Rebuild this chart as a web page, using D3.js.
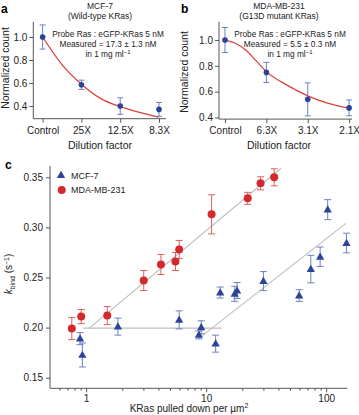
<!DOCTYPE html>
<html><head><meta charset="utf-8">
<script src="https://cdn.jsdelivr.net/npm/d3@7"></script>
<style>
body{margin:0;background:#fff;}
svg{display:block;font-family:"Liberation Sans",Arial,sans-serif;}
</style></head>
<body><svg id="c" width="359" height="415"></svg>
<script>
// ---- Panel a data ----
const catsA = ["Control","25X","12.5X","8.3X"];
const valsA = [1.0, 0.585, 0.40, 0.371];
const errA  = [0.105, 0.04, 0.072, 0.06];
const fitAx = [0, 0.5, 1, 1.5, 2, 2.5, 3];
const fitAy = [1.0, 0.76, 0.59, 0.465, 0.395, 0.345, 0.303];
const ticksA = [0.4, 0.6, 0.8, 1.0];
// ---- Panel b data ----
const catsB = ["Control","6.3X","3.1X","2.1X"];
const valsB = [1.0, 0.749, 0.54, 0.474];
const errB  = [0.097, 0.078, 0.128, 0.061];
const fitBx = [0, 0.25, 0.5, 0.75, 1, 1.5, 2, 2.5, 3];
const fitBy = [1.0, 0.975, 0.922, 0.84, 0.755, 0.65, 0.567, 0.508, 0.47];
const ticksB = [0.4, 0.6, 0.8, 1.0];
// ---- Panel c data ----
const mcfX   = [0.89, 0.93, 1.84, 5.96, 9.1, 8.7, 12.0, 13.1, 17.3, 18.1, 30.0, 59.6, 74.5, 89.1, 103, 147.7];
const mcfY   = [0.189, 0.1727, 0.201, 0.2077, 0.2003, 0.1927, 0.184, 0.235, 0.2337, 0.237, 0.2464, 0.232, 0.2584, 0.2707, 0.3177, 0.2844];
const mcfErr = [0.006, 0.012, 0.0085, 0.009, 0.0065, 0.004, 0.0085, 0.0055, 0.0075, 0.008, 0.0095, 0.0058, 0.0137, 0.0097, 0.010, 0.0098];
const mdaX   = [0.76, 0.91, 1.5, 3.02, 4.2, 5.55, 5.96, 11.1, 22.2, 28.4, 36.9];
const mdaY   = [0.199, 0.211, 0.212, 0.247, 0.263, 0.266, 0.278, 0.313, 0.329, 0.344, 0.350];
const mdaErr = [0.011, 0.007, 0.009, 0.010, 0.010, 0.009, 0.009, 0.0195, 0.006, 0.0065, 0.0085];
const lineMda  = [[1.05, 0.199], [42, 0.359]];
const lineFlat = [[0.95, 0.1995], [13.5, 0.1995]];
const lineMcf  = [[9.3, 0.192], [146, 0.304]];
const ticksCy = [0.15, 0.20, 0.25, 0.30, 0.35];
const ticksCx = [1, 10, 100];
const minorCx = [0.6,0.7,0.8,0.9,2,3,4,5,6,7,8,9,20,30,40,50,60,70,80,90];

const BLUE = "#2b4497", BLUE_E = "#6d80c6", RED = "#d32b2b", RED_E = "#df5f5c", CURVE = "#d8443c", GRAY = "#bdbdbd", AX = "#444";
const svg = d3.select("#c");

function styleAxis(g){
  g.selectAll("path.domain").remove();
  g.selectAll("line").attr("stroke", AX).attr("stroke-width", 0.9);
  g.selectAll("text").attr("fill", "#222").attr("font-size", "10px");
}

function catPanel(o){
  const x = d3.scaleLinear().domain(o.xd).range(o.xr);
  const y = d3.scaleLinear().domain(o.yd).range(o.yr);
  const g = svg.append("g");
  g.append("line").attr("x1", o.xr[0]).attr("x2", o.xr[0]).attr("y1", o.yr[1]).attr("y2", o.yr[0]).attr("stroke", AX).attr("stroke-width", 0.9);
  g.append("line").attr("x1", o.xr[0]).attr("x2", o.xr[1]).attr("y1", o.yr[0]).attr("y2", o.yr[0]).attr("stroke", AX).attr("stroke-width", 0.9);
  const ya = g.append("g").attr("transform", `translate(${o.xr[0]},0)`)
    .call(d3.axisLeft(y).tickValues(o.yticks).tickFormat(d3.format(".1f")).tickSize(4).tickPadding(2));
  styleAxis(ya);
  const xa = g.append("g").attr("transform", `translate(0,${o.yr[0]})`)
    .call(d3.axisBottom(x).tickValues(d3.range(o.cats.length)).tickFormat(i => o.cats[i]).tickSize(4).tickPadding(4));
  styleAxis(xa);
  g.append("path").datum(o.fx.map((v,i)=>[v,o.fy[i]]))
    .attr("d", d3.line().x(d=>x(d[0])).y(d=>y(d[1])).curve(d3.curveMonotoneX))
    .attr("fill","none").attr("stroke", CURVE).attr("stroke-width", 1.3);
  o.vals.forEach((v,i)=>{
    const cx = x(i), t = y(v+o.err[i]), b = y(v-o.err[i]);
    g.append("line").attr("x1",cx).attr("x2",cx).attr("y1",t).attr("y2",b).attr("stroke",BLUE_E).attr("stroke-width",1);
    [t,b].forEach(yy=>g.append("line").attr("x1",cx-3).attr("x2",cx+3).attr("y1",yy).attr("y2",yy).attr("stroke",BLUE_E).attr("stroke-width",1));
    g.append("circle").attr("cx",cx).attr("cy",y(v)).attr("r",2.8).attr("fill",BLUE);
  });
  g.append("text").attr("x", o.lab[0]).attr("y", o.lab[1]).attr("font-weight","bold").attr("font-size","12px").text(o.letter);
  g.append("text").attr("x", o.tx).attr("y", 9).attr("text-anchor","middle").attr("font-size","8.5px").attr("fill","#222").text(o.t1);
  g.append("text").attr("x", o.tx).attr("y", 19).attr("text-anchor","middle").attr("font-size","8.5px").attr("fill","#222").text(o.t2);
  const ax = o.ax;
  [["Probe Ras : eGFP-KRas 5 nM", 37], [o.meas, 47]].forEach(([s,yy])=>
    g.append("text").attr("x", ax).attr("y", yy).attr("text-anchor","middle").attr("font-size","8.3px").attr("fill","#222").text(s));
  const t3 = g.append("text").attr("x", ax).attr("y", 56.5).attr("text-anchor","middle").attr("font-size","8.3px").attr("fill","#222");
  t3.append("tspan").text("in 1 mg ml");
  t3.append("tspan").attr("dy", -3).attr("font-size","6px").text("−1");
  g.append("text").attr("x", o.tx).attr("y", 149).attr("text-anchor","middle").attr("font-size","10.5px").attr("fill","#222").text("Dilution factor");
  g.append("text").attr("transform", `translate(${o.ylx},${o.yly}) rotate(-90)`).attr("text-anchor","middle").attr("font-size","10.5px").attr("fill","#222").text("Normalized count");
}

catPanel({cats:catsA, vals:valsA, err:errA, fx:fitAx, fy:fitAy, yticks:ticksA,
  xd:[-0.24,3.18], xr:[33.3,166], yd:[0.29,1.133], yr:[118.7,21.7],
  letter:"a", lab:[1,13], tx:100, t1:"MCF-7", t2:"(Wild-type KRas)", ax:108, meas:"Measured = 17.3 ± 1.3 nM", ylx:8.5, yly:68});
catPanel({cats:catsB, vals:valsB, err:errB, fx:fitBx, fy:fitBy, yticks:ticksB,
  xd:[-0.145,3.07], xr:[219,352], yd:[0.387,1.142], yr:[119.1,21.7],
  letter:"b", lab:[181,13], tx:279, t1:"MDA-MB-231", t2:"(G13D mutant KRas)", ax:290, meas:"Measured = 5.5 ± 0.3 nM", ylx:187.5, yly:72});

// ---- Panel c ----
const xc = d3.scaleLog().domain([0.5,150]).range([50,347.3]);
const yc = d3.scaleLinear().domain([0.15,0.35]).range([377.7,177.3]);
const gc = svg.append("g");
gc.append("line").attr("x1",50).attr("x2",50).attr("y1",166).attr("y2",388.3).attr("stroke",AX).attr("stroke-width",0.9);
gc.append("line").attr("x1",50).attr("x2",347.3).attr("y1",388.3).attr("y2",388.3).attr("stroke",AX).attr("stroke-width",0.9);
const yca = gc.append("g").attr("transform","translate(50,0)")
  .call(d3.axisLeft(yc).tickValues(ticksCy).tickFormat(d3.format(".2f")).tickSize(4).tickPadding(3));
styleAxis(yca);
const xca = gc.append("g").attr("transform","translate(0,388.3)")
  .call(d3.axisBottom(xc).tickValues(ticksCx).tickFormat(d3.format("d")).tickSize(4).tickPadding(3));
styleAxis(xca);
const xcm = gc.append("g").attr("transform","translate(0,388.3)")
  .call(d3.axisBottom(xc).tickValues(minorCx).tickFormat("").tickSize(2.5));
styleAxis(xcm);
gc.append("text").attr("x",5).attr("y",169).attr("font-weight","bold").attr("font-size","12px").text("c");

const ln = d3.line().x(d=>xc(d[0])).y(d=>yc(d[1]));
[lineMda, lineFlat, lineMcf].forEach(L=>gc.append("path").attr("d", ln(L)).attr("fill","none").attr("stroke",GRAY).attr("stroke-width",1.1));

function ebar(px, v, e, col){
  const t = yc(v+e), b = yc(v-e);
  gc.append("line").attr("x1",px).attr("x2",px).attr("y1",t).attr("y2",b).attr("stroke",col).attr("stroke-width",1);
  [t,b].forEach(yy=>gc.append("line").attr("x1",px-3.5).attr("x2",px+3.5).attr("y1",yy).attr("y2",yy).attr("stroke",col).attr("stroke-width",1));
}
const tri = d3.symbol().type(d3.symbolTriangle).size(30);
mcfX.forEach((v,i)=>{ ebar(xc(v), mcfY[i], mcfErr[i], BLUE_E); });
mcfX.forEach((v,i)=>{
  gc.append("path").attr("d", tri()).attr("transform",`translate(${xc(v)},${yc(mcfY[i])+0.5})`).attr("fill",BLUE);
});
mdaX.forEach((v,i)=>{ ebar(xc(v), mdaY[i], mdaErr[i], RED_E); });
mdaX.forEach((v,i)=>{
  gc.append("circle").attr("cx",xc(v)).attr("cy",yc(mdaY[i])).attr("r",4).attr("fill",RED);
});
// legend
gc.append("path").attr("d", tri()).attr("transform","translate(61,175.5)").attr("fill",BLUE);
gc.append("text").attr("x",71).attr("y",178.5).attr("font-size","9px").attr("fill","#222").text("MCF-7");
gc.append("circle").attr("cx",61.7).attr("cy",190).attr("r",4).attr("fill",RED);
gc.append("text").attr("x",71).attr("y",193.3).attr("font-size","9px").attr("fill","#222").text("MDA-MB-231");
// axis titles
const yt = gc.append("text").attr("transform","translate(12,274) rotate(-90)").attr("text-anchor","middle").attr("font-size","10px").attr("fill","#222");
yt.append("tspan").attr("font-style","italic").text("k");
yt.append("tspan").attr("dy",2.5).attr("font-size","7px").text("bind");
yt.append("tspan").attr("dy",-2.5).text(" (s");
yt.append("tspan").attr("dy",-3.5).attr("font-size","7px").text("−1");
yt.append("tspan").attr("dy",3.5).text(")");
gc.append("text").attr("x",189).attr("y",412.3).attr("text-anchor","middle").attr("font-size","10px").attr("fill","#222")
  .html('KRas pulled down per µm<tspan dy="-4" font-size="7px">2</tspan>');
</script></body></html>
